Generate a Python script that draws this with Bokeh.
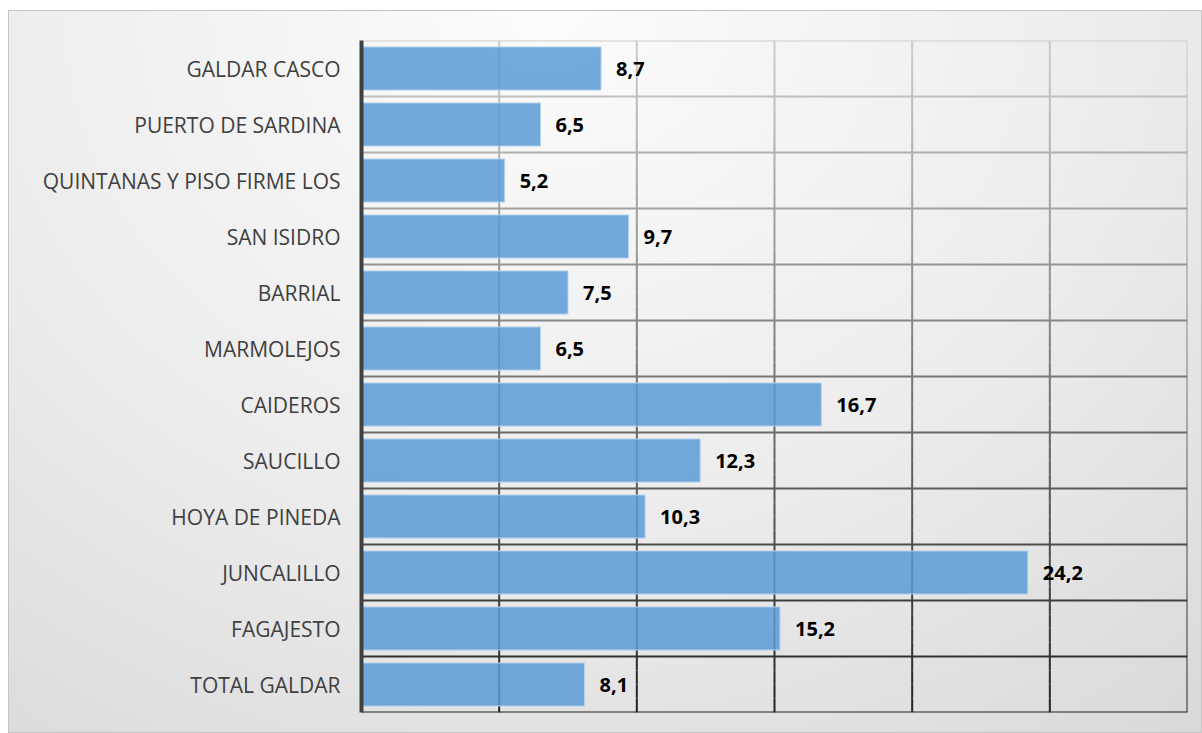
from bokeh.plotting import figure
from bokeh.models import FactorRange, Range1d, ColumnDataSource
from bokeh.core.properties import value
from bokeh.embed import file_html
from bokeh.resources import INLINE

categories = ["GALDAR CASCO", "PUERTO DE SARDINA", "QUINTANAS Y PISO FIRME LOS",
              "SAN ISIDRO", "BARRIAL", "MARMOLEJOS", "CAIDEROS", "SAUCILLO",
              "HOYA DE PINEDA", "JUNCALILLO", "FAGAJESTO", "TOTAL GALDAR"]
values = [8.7, 6.5, 5.2, 9.7, 7.5, 6.5, 16.7, 12.3, 10.3, 24.2, 15.2, 8.1]
x_ticks = [5, 10, 15, 20, 25, 30]
x_max = 30

labels = [f"{v:.1f}".replace(".", ",") for v in values]
n = len(categories)

p = figure(width=1194, height=723, output_backend="svg", toolbar_location=None,
           y_range=FactorRange(factors=categories[::-1]),
           x_range=Range1d(0, x_max),
           min_border_left=353, min_border_top=30, min_border_right=15, min_border_bottom=21,
           margin=(10, 0, 0, 8),
           styles={"background": "radial-gradient(ellipse 90% 130% at 45% 0%, #fcfcfc 0%, #ececec 55%, #d8d8d8 100%)",
                   "box-shadow": "inset 0 0 0 1px #c4c4c4"})
p.border_fill_color = None
p.background_fill_color = None
p.outline_line_color = None
p.xgrid.visible = False
p.ygrid.visible = False
p.xaxis.visible = False

# gradient colour: light at top (t=0) to dark at bottom (t=1)
def grad(t):
    c = int(round(205 + (34 - 205) * t))
    return "#%02x%02x%02x" % (c, c, c)

# vertical grid lines, split into small pieces for a top-to-bottom gradient
pieces = 4
vx, vy0, vy1, vc = [], [], [], []
for xt in x_ticks:
    for k in range(n * pieces):
        y_top = n - k / pieces
        y_bot = n - (k + 1) / pieces
        vx.append(xt)
        vy0.append(y_top)
        vy1.append(y_bot)
        vc.append(grad((k + 0.5) / (n * pieces)))
p.segment(x0=vx, x1=vx, y0=vy0, y1=vy1, line_color=vc, line_width=2)

# horizontal grid lines at category boundaries
hy = list(range(n + 1))
hc = [grad(1 - j / n) for j in hy]
p.segment(x0=[0] * len(hy), x1=[x_max] * len(hy), y0=hy, y1=hy, line_color=hc, line_width=2)

src = ColumnDataSource(dict(cat=categories, val=values, lab=labels))
p.hbar(y="cat", left=0, right="val", height=0.77, source=src,
       fill_color="#5b9bd5", fill_alpha=0.85, line_color="#b7d2ee", line_width=1)

p.text(x="val", y="cat", text="lab", source=src, x_offset=15,
       text_baseline="middle", text_align="left",
       text_font=value("Open Sans"), text_font_style="bold",
       text_font_size="20px", text_color="#000000")

ya = p.yaxis[0]
ya.axis_line_color = "#404040"
ya.axis_line_width = 4
ya.major_tick_line_color = None
ya.minor_tick_line_color = None
ya.major_tick_out = 0
ya.major_label_standoff = 21
ya.major_label_text_font = "Open Sans"
ya.major_label_text_font_size = "21px"
ya.major_label_text_color = "#404040"

open("out.html", "w").write(file_html(p, INLINE))
